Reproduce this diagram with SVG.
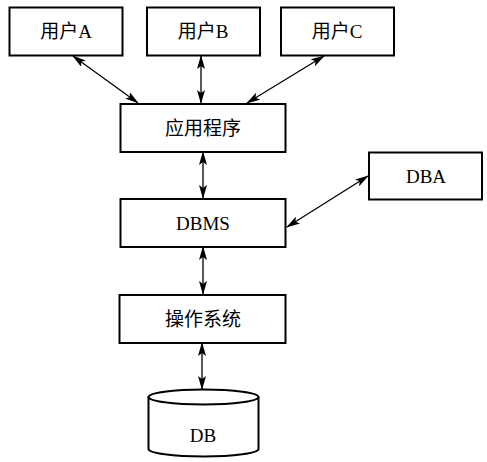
<svg xmlns="http://www.w3.org/2000/svg" width="487" height="462" viewBox="0 0 487 462">
  <style>
    .box { fill: #fff; stroke: #000; stroke-width: 2; }
    .lbl { font-family: "Liberation Serif", "Noto Sans CJK SC", serif; font-size: 19px; fill: #000; text-anchor: middle; dominant-baseline: central; }
    .link { stroke: #000; stroke-width: 1.3; fill: none; marker-start: url(#head); marker-end: url(#head); }
  </style>
  <defs>
    <marker id="head" viewBox="0 0 14 8" refX="13" refY="4" markerWidth="14" markerHeight="8" markerUnits="userSpaceOnUse" orient="auto-start-reverse">
      <path d="M0,0 L14,4 L0,8 L3,4 Z" fill="#000"/>
    </marker>
  </defs>
  <rect width="487" height="462" fill="#fff"/>

  <g id="connectors">
    <line class="link" x1="73" y1="56" x2="138" y2="103"/>
    <line class="link" x1="201" y1="56" x2="201" y2="103"/>
    <line class="link" x1="324" y1="56" x2="247" y2="103"/>
    <line class="link" x1="203" y1="152" x2="203" y2="198"/>
    <line class="link" x1="287" y1="227" x2="368" y2="176"/>
    <line class="link" x1="203" y1="247" x2="203" y2="294"/>
    <line class="link" x1="202" y1="343" x2="202" y2="389"/>
  </g>

  <g id="user-a">
    <rect class="box" x="9.5" y="7.5" width="113" height="48"/>
    <text class="lbl" x="66" y="31">用户A</text>
  </g>
  <g id="user-b">
    <rect class="box" x="147" y="7.5" width="113" height="48"/>
    <text class="lbl" x="203" y="31">用户B</text>
  </g>
  <g id="user-c">
    <rect class="box" x="281" y="7.5" width="113" height="48"/>
    <text class="lbl" x="337" y="31">用户C</text>
  </g>
  <g id="app">
    <rect class="box" x="120.5" y="104" width="165" height="48"/>
    <text class="lbl" x="203" y="128">应用程序</text>
  </g>
  <g id="dbms">
    <rect class="box" x="120.5" y="199" width="165" height="48"/>
    <text class="lbl" x="203" y="223">DBMS</text>
  </g>
  <g id="dba">
    <rect class="box" x="369" y="152.5" width="113" height="47"/>
    <text class="lbl" x="426" y="176">DBA</text>
  </g>
  <g id="os">
    <rect class="box" x="119.5" y="295" width="166" height="48"/>
    <text class="lbl" x="203" y="319">操作系统</text>
  </g>
  <g id="db">
    <path class="box" d="M148.5,397 L148.5,449 A55,7.5 0 0 0 258.5,449 L258.5,397 A55,7.5 0 0 0 148.5,397 Z"/>
    <path d="M148.5,397 A55,7.5 0 0 0 258.5,397" fill="none" stroke="#000" stroke-width="2"/>
    <text class="lbl" x="203" y="435">DB</text>
  </g>
</svg>
